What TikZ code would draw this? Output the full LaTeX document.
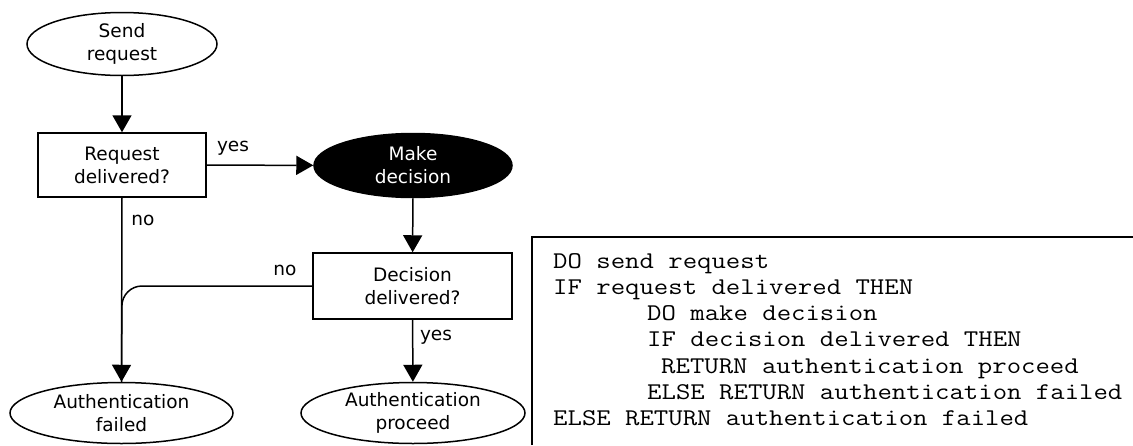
\documentclass[tikz,border=0pt]{standalone}
\usepackage{fontspec}
\setmainfont{DejaVu Sans}
\newfontfamily\codefont[FakeStretch=1.165]{Latin Modern Mono}
\usetikzlibrary{shapes.geometric,arrows.meta}

\tikzset{
  flowline/.style={line width=1.5pt, -{Triangle[width=19pt,length=17pt]}},
  plainline/.style={line width=1.5pt},
  endpoint/.style={ellipse, draw, line width=1.5pt, inner sep=0pt,
    font=\fontsize{18.5}{23}\selectfont, align=center},
  activity/.style={endpoint, fill=black, text=white},
  test/.style={rectangle, draw, line width=1.5pt, inner sep=0pt,
    font=\fontsize{18.5}{23}\selectfont, align=center},
  edgelabel/.style={font=\fontsize{18.5}{22}\selectfont, inner sep=0pt},
  codeline/.style={font=\codefont\fontsize{24}{26}\selectfont, anchor=base west, inner sep=0pt},
}

\begin{document}
\begin{tikzpicture}[x=1pt, y=-1pt]
  \useasboundingbox (0,0) rectangle (1133,445);

  % flowchart nodes
  \node[endpoint, minimum width=190pt, minimum height=63pt] (send) at (122,44) {Send\\request};
  \node[test, minimum width=168pt, minimum height=64pt] (reqdel) at (122,165) {Request\\delivered?};
  \node[activity, minimum width=198pt, minimum height=64pt] (decide) at (413,165.5) {Make\\decision};
  \node[test, minimum width=199pt, minimum height=66pt] (decdel) at (412.5,286) {Decision\\delivered?};
  \node[endpoint, minimum width=223pt, minimum height=61pt] (failed) at (121.5,413) {Authentication\\failed};
  \node[endpoint, minimum width=224pt, minimum height=61pt] (proceed) at (413,413) {Authentication\\proceed};

  % connectors
  \draw[flowline] (send) -- (reqdel);
  \draw[flowline] (reqdel) -- (decide);
  \draw[flowline] (decide) -- (decdel);
  \draw[flowline] (decdel) -- (proceed);
  \draw[flowline] (reqdel.south) -- (failed.north);
  \draw[plainline, rounded corners=20pt] (decdel.west) -- (reqdel.south |- decdel.west) -- (failed.north);

  % edge labels
  \node[edgelabel] (lyes1) at (233,148) {yes};
  \node[edgelabel] (lno1) at (143,220) {no};
  \node[edgelabel] (lno2) at (285,270) {no};
  \node[edgelabel] (lyes2) at (436,337) {yes};

  % pseudo-code panel
  \coordinate (panelbl) at (532,445);
  \coordinate (paneltl) at (532,237);
  \coordinate (paneltr) at (1133,237);
  \draw[line width=1.3pt] (panelbl) -- (paneltl) -- (paneltr);

  \node[codeline] (c1) at (553,268) {DO send request};
  \node[codeline] (c2) at (553,294.3) {IF request delivered THEN};
  \node[codeline] (c3) at (647,320.6) {DO make decision};
  \node[codeline] (c4) at (647,346.9) {IF decision delivered THEN};
  \node[codeline] (c5) at (661,373.2) {RETURN authentication proceed};
  \node[codeline] (c6) at (647,399.5) {ELSE RETURN authentication failed};
  \node[codeline] (c7) at (553,425.8) {ELSE RETURN authentication failed};
\end{tikzpicture}
\end{document}
